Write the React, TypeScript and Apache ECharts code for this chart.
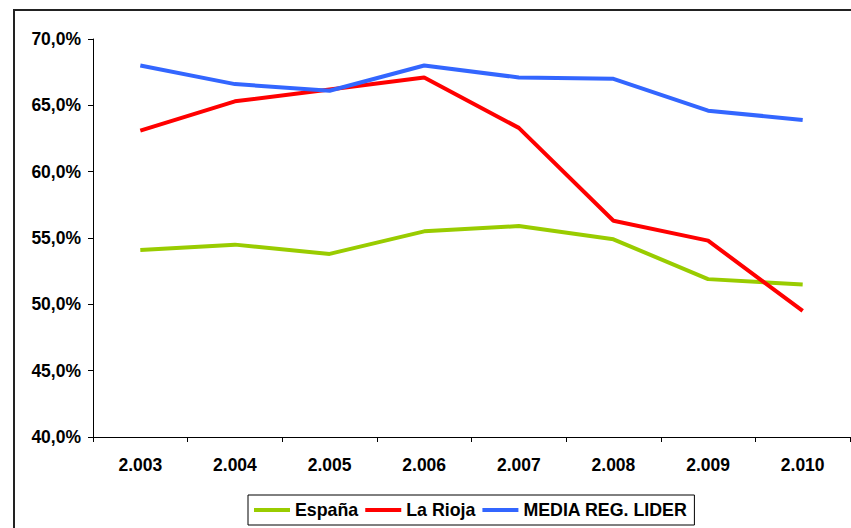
import React, { useEffect, useRef } from "react";
import * as echarts from "echarts";

const years = ["2.003", "2.004", "2.005", "2.006", "2.007", "2.008", "2.009", "2.010"];
const espana = [54.1, 54.5, 53.8, 55.5, 55.9, 54.9, 51.9, 51.5];
const laRioja = [63.1, 65.3, 66.2, 67.1, 63.3, 56.3, 54.8, 49.5];
const mediaRegLider = [68.0, 66.6, 66.1, 68.0, 67.1, 67.0, 64.6, 63.9];

const FONT = "'Liberation Sans', Arial, sans-serif";

export default function App() {
  const ref = useRef<HTMLDivElement>(null);
  useEffect(() => {
    if (!ref.current) return;
    const chart = echarts.init(ref.current, null, { renderer: "svg" });
    const mk = (name: string, data: number[], color: string) => ({
      name,
      type: "line",
      data,
      symbol: "none",
      lineStyle: { color, width: 4 },
      itemStyle: { color },
    });
    chart.setOption({
      animation: false,
      backgroundColor: "#ffffff",
      textStyle: { fontFamily: FONT },
      graphic: [
        {
          type: "rect",
          shape: { x: 14, y: 10, width: 900, height: 600 },
          style: { fill: "none", stroke: "#222", lineWidth: 2 },
          silent: true,
        },
      ],
      grid: { left: 93, top: 39, right: 1, bottom: 91 },
      xAxis: {
        type: "category",
        data: years,
        boundaryGap: true,
        axisLine: { lineStyle: { color: "#000", width: 1 } },
        axisTick: { show: true, length: 5, lineStyle: { color: "#000" } },
        axisLabel: { color: "#000", fontWeight: "bold", fontSize: 17.5, margin: 19, fontFamily: FONT },
        splitLine: { show: false },
      },
      yAxis: {
        type: "value",
        min: 40,
        max: 70,
        interval: 5,
        axisLine: { show: true, lineStyle: { color: "#000", width: 1 } },
        axisTick: { show: true, length: 5, lineStyle: { color: "#000" } },
        axisLabel: {
          color: "#000",
          fontWeight: "bold",
          fontSize: 17.5,
          margin: 12,
          fontFamily: FONT,
          formatter: (v: number) => v.toFixed(1).replace(".", ",") + "%",
        },
        splitLine: { show: false },
      },
      legend: {
        left: 248,
        top: 495,
        padding: [6, 7, 6, 6],
        borderColor: "#000",
        borderWidth: 1,
        itemGap: 7,
        itemWidth: 36,
        itemHeight: 4,
        icon: "rect",
        textStyle: { color: "#000", fontWeight: "bold", fontSize: 17.8, fontFamily: FONT },
        data: ["España", "La Rioja", "MEDIA REG. LIDER"],
      },
      series: [
        mk("España", espana, "#99CC00"),
        mk("La Rioja", laRioja, "#FF0000"),
        mk("MEDIA REG. LIDER", mediaRegLider, "#3366FF"),
      ],
    });
    return () => chart.dispose();
  }, []);
  return (
    <div
      ref={ref}
      style={{ position: "fixed", left: 0, top: 0, width: 851, height: 528, background: "#fff" }}
    />
  );
}
